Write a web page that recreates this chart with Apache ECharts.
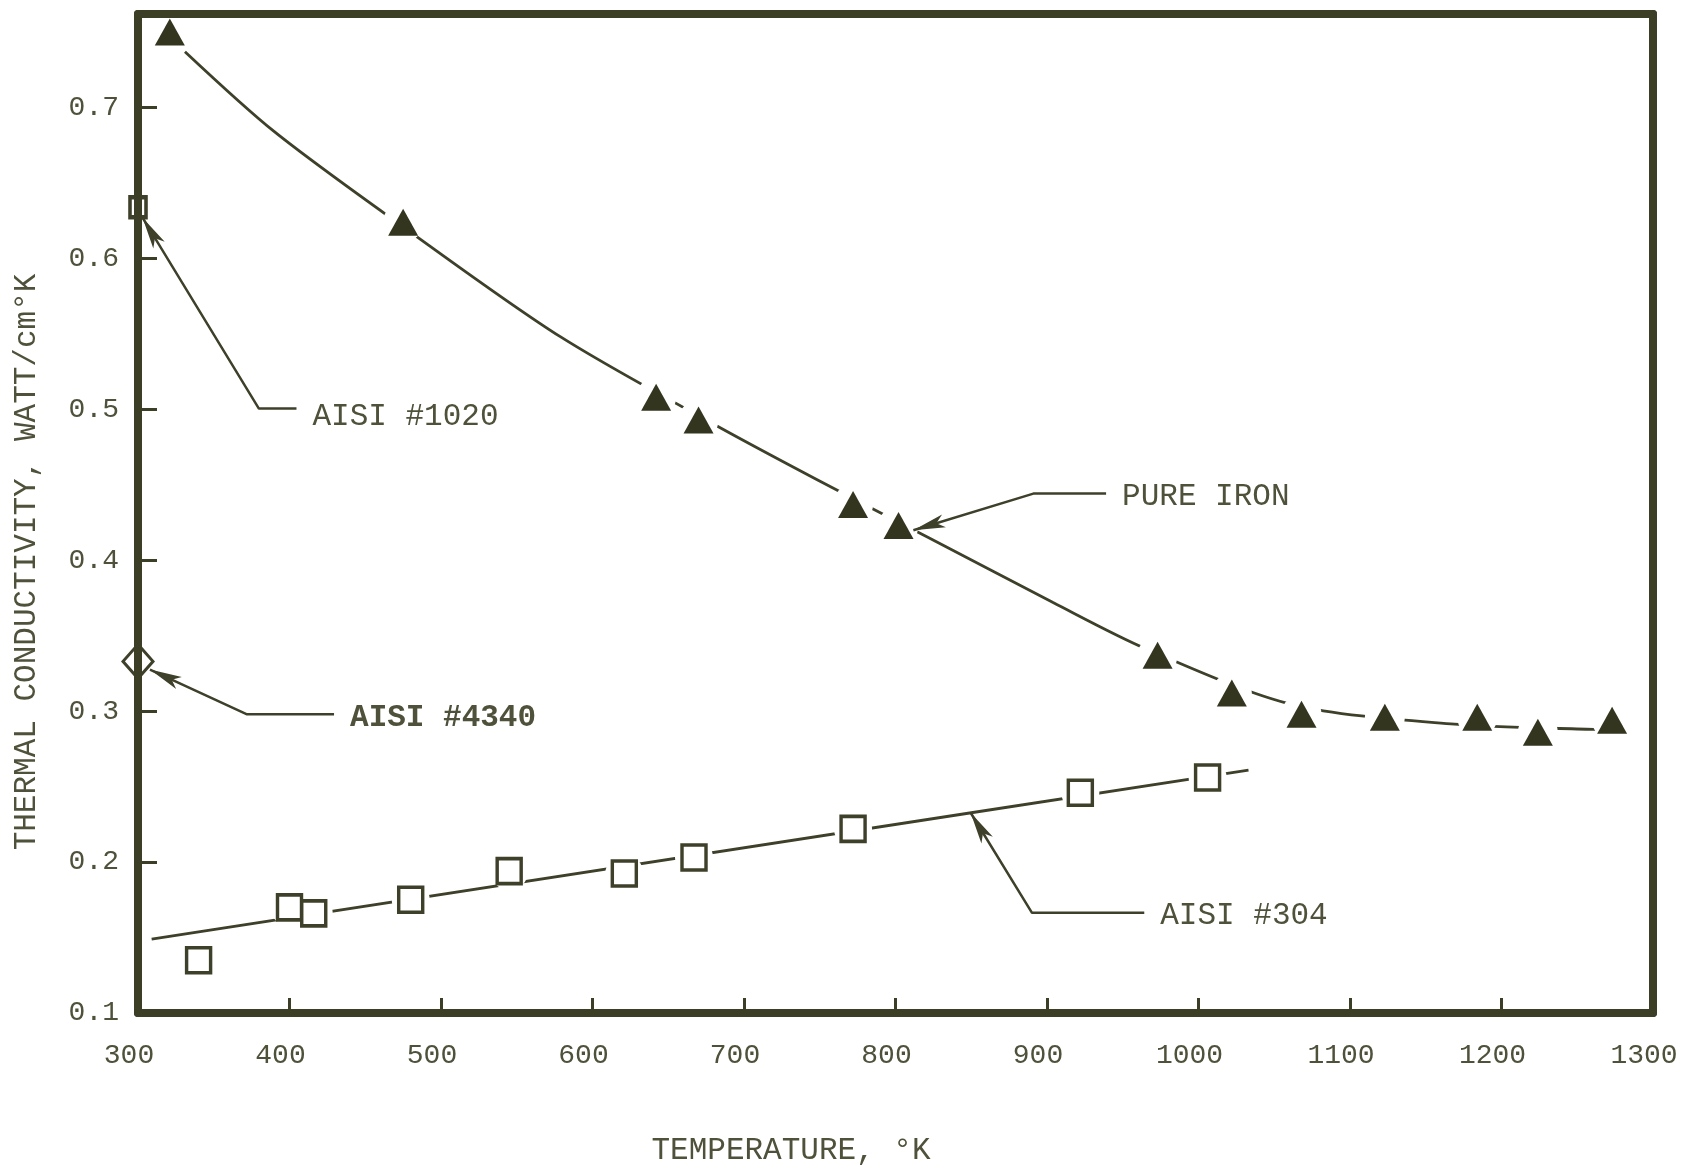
<!DOCTYPE html>
<html>
<head>
<meta charset="utf-8">
<script src="https://cdn.jsdelivr.net/npm/echarts@6/dist/echarts.min.js"></script>
<style>
html,body{margin:0;padding:0;background:#ffffff;}
#chart{width:1684px;height:1167px;}
</style>
</head>
<body>
<div id="chart"></div>
<script>
// ---------------- DATA ----------------
// Tick values
const xTicks = [300, 400, 500, 600, 700, 800, 900, 1000, 1100, 1200, 1300];
const yTicks = [0.1, 0.2, 0.3, 0.4, 0.5, 0.6, 0.7];
const yTop = 0.762;

// Axis titles
const xTitle = 'TEMPERATURE, °K';
const yTitle = 'THERMAL CONDUCTIVITY, WATT/cm°K';

// Pure iron: measured points (filled triangles)
const ironTemp = [321, 475, 642, 670, 772, 802, 973, 1022, 1068, 1123, 1184, 1224, 1273];
const ironK    = [0.750, 0.624, 0.508, 0.493, 0.437, 0.423, 0.337, 0.312, 0.298, 0.296, 0.296, 0.286, 0.294];
// Pure iron: drawn curve
const ironFitTemp = [331, 390, 475, 579, 684, 766, 821, 904, 965, 1062, 1169, 1261, 1273];
const ironFitK    = [0.737, 0.684, 0.621, 0.548, 0.488, 0.444, 0.4155, 0.372, 0.3415, 0.3044, 0.2914, 0.2879, 0.2876];

// AISI #304: measured points (open squares)
const ss304Temp = [340, 400, 416, 480, 545, 621, 667, 772, 922, 1006];
const ss304K    = [0.135, 0.170, 0.166, 0.175, 0.194, 0.1925, 0.203, 0.222, 0.246, 0.256];
// AISI #304: drawn line
const ss304FitTemp = [309, 850, 1033];
const ss304FitK    = [0.149, 0.2327, 0.261];

// Single points
const aisi1020Temp = [300];
const aisi1020K    = [0.634];
const aisi4340Temp = [300];
const aisi4340K    = [0.333];

// Leader lines (callouts) : start (arrow) -> bend -> end (label)
const leaderNames = ['AISI #1020', 'AISI #4340', 'PURE IRON', 'AISI #304'];
const leader1020Temp = [303, 379.8, 404.6];
const leader1020K    = [0.627, 0.5005, 0.5005];
const leader4340Temp = [307.9, 371.6, 429.4];
const leader4340K    = [0.3276, 0.298, 0.298];
const leaderIronTemp = [811.8, 891, 939];
const leaderIronK    = [0.4199, 0.4442, 0.4442];
const leader304Temp  = [849.6, 890.1, 964.2];
const leader304K     = [0.2327, 0.1664, 0.1664];

// ---------------- STYLE ----------------
const FRAME = '#3c3e26';
const MARK  = '#34351f';
const LINE  = '#3f402a';
const TEXT  = '#4f513a';
const FONT  = 'Liberation Mono';

const pairs = (xs, ys) => xs.map((x, i) => [x, ys[i]]);

function leader(ts, ks, name, rot, offY, bold) {
  return {
    type: 'line', z: 5, silent: true, animation: false,
    symbol: 'none', showSymbol: true,
    data: ts.map((t, i) => {
      const item = { value: [t, ks[i]] };
      if (i === 0) {
        item.symbol = 'arrow';
        item.symbolSize = [10, 32];
        item.symbolRotate = rot;
        item.itemStyle = { color: LINE, opacity: 1 };
      }
      return item;
    }),
    lineStyle: { color: LINE, width: 2.5 },
    endLabel: {
      show: true, formatter: name, distance: 16, offset: [0, offY],
      color: TEXT, fontSize: 31, fontFamily: FONT, fontWeight: bold ? 'bold' : 'normal'
    }
  };
}

const chart = echarts.init(document.getElementById('chart'), null, { renderer: 'canvas' });

const axisLineStyle = { color: FRAME, width: 8, cap: 'round' };

const option = {
  backgroundColor: '#ffffff',
  animation: false,
  grid: { left: 138, right: 31, top: 14, bottom: 154, containLabel: false },
  xAxis: [
    {
      type: 'value', min: xTicks[0], max: xTicks[xTicks.length - 1], interval: xTicks[1] - xTicks[0],
      position: 'bottom', z: 6,
      axisLine: { show: true, onZero: false, lineStyle: axisLineStyle },
      axisTick: { show: true, inside: true, length: 15, lineStyle: { color: FRAME, width: 3 } },
      axisLabel: { show: true, margin: 29, color: TEXT, fontSize: 28, fontFamily: FONT, padding: [0, 18, 0, 0],
                   formatter: v => String(Math.round(v)) },
      splitLine: { show: false }
    },
    {
      type: 'value', min: xTicks[0], max: xTicks[xTicks.length - 1], position: 'top', z: 6,
      axisLine: { show: true, onZero: false, lineStyle: axisLineStyle },
      axisTick: { show: false }, axisLabel: { show: false }, splitLine: { show: false }
    }
  ],
  yAxis: [
    {
      type: 'value', min: yTicks[0], max: yTop, interval: yTicks[1] - yTicks[0],
      position: 'left', z: 6,
      axisLine: { show: true, onZero: false, lineStyle: axisLineStyle },
      axisTick: { show: true, inside: true, length: 19, lineStyle: { color: FRAME, width: 3 } },
      axisLabel: { show: true, margin: 19, color: TEXT, fontSize: 28, fontFamily: FONT, showMaxLabel: false,
                   formatter: v => (Math.abs(v - yTop) < 1e-6 ? '' : v.toFixed(1)) },
      splitLine: { show: false }
    },
    {
      type: 'value', min: yTicks[0], max: yTop, position: 'right', z: 6,
      axisLine: { show: true, onZero: false, lineStyle: axisLineStyle },
      axisTick: { show: false }, axisLabel: { show: false }, splitLine: { show: false }
    }
  ],
  graphic: [
    { type: 'text', x: 27, y: 562, rotation: Math.PI / 2, silent: true,
      style: { text: yTitle, fontSize: 31, fontFamily: FONT, fill: TEXT, align: 'center', verticalAlign: 'middle' } },
    { type: 'text', x: 791, y: 1151, silent: true,
      style: { text: xTitle, fontSize: 31, fontFamily: FONT, fill: TEXT, align: 'center', verticalAlign: 'middle' } }
  ],
  series: [
    // drawn curves
    { type: 'line', name: 'iron curve', z: 2, silent: true, showSymbol: false, smooth: 0.3,
      data: pairs(ironFitTemp, ironFitK), lineStyle: { color: LINE, width: 2.8 } },
    { type: 'line', name: '304 line', z: 2, silent: true, showSymbol: false,
      data: pairs(ss304FitTemp, ss304FitK), lineStyle: { color: LINE, width: 2.8 } },
    // white halos (gaps in the lines around symbols)
    { type: 'scatter', z: 3, silent: true, symbol: 'circle', symbolSize: 40,
      data: pairs(ironTemp, ironK), itemStyle: { color: '#ffffff', opacity: 1 } },
    { type: 'scatter', z: 3, silent: true, symbol: 'circle', symbolSize: 38,
      data: pairs(ss304Temp, ss304K), itemStyle: { color: '#ffffff', opacity: 1 } },
    // markers
    { type: 'scatter', name: 'PURE IRON', z: 4, symbol: 'triangle', symbolSize: [30, 27],
      data: pairs(ironTemp, ironK), itemStyle: { color: MARK, opacity: 1 } },
    { type: 'scatter', name: 'AISI #304', z: 4, symbol: 'rect', symbolSize: [24, 25],
      data: pairs(ss304Temp, ss304K), itemStyle: { color: '#ffffff', borderColor: '#3f402a', borderWidth: 3.5, opacity: 1 } },
    { type: 'scatter', name: 'AISI #1020', z: 4, symbol: 'rect', symbolSize: [16, 20],
      data: pairs(aisi1020Temp, aisi1020K), itemStyle: { color: '#ffffff', borderColor: '#3f402a', borderWidth: 4, opacity: 1 } },
    { type: 'scatter', name: 'AISI #4340', z: 4, symbol: 'diamond', symbolSize: [30, 34],
      data: pairs(aisi4340Temp, aisi4340K), itemStyle: { color: 'rgba(255,255,255,0)', borderColor: '#3f402a', borderWidth: 3, opacity: 1 } },
    // callouts
    leader(leader1020Temp, leader1020K, leaderNames[0], 31, 8, false),
    leader(leader4340Temp, leader4340K, leaderNames[1], 65, 4, true),
    leader(leaderIronTemp, leaderIronK, leaderNames[2], 107, 3, false),
    leader(leader304Temp, leader304K, leaderNames[3], 31, 3, false)
  ]
};

chart.setOption(option);
</script>
</body>
</html>
